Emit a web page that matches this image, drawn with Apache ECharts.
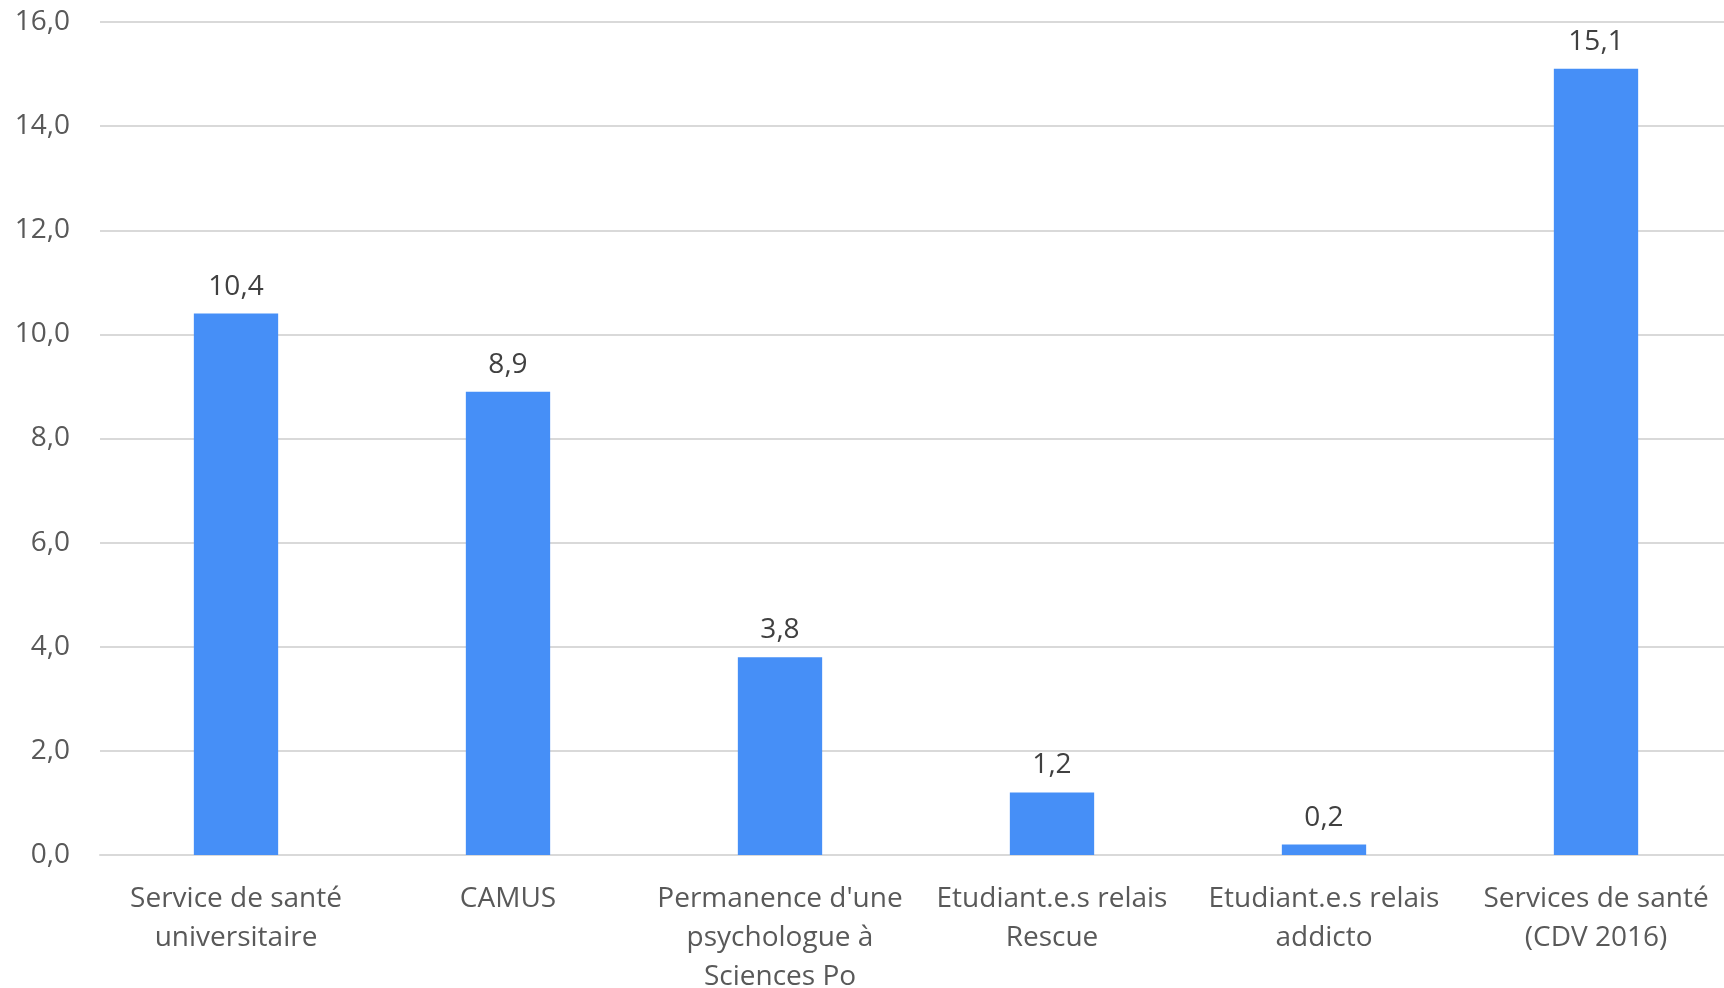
<!DOCTYPE html>
<html>
<head>
<meta charset="utf-8">
<script src="https://cdn.jsdelivr.net/npm/echarts@6/dist/echarts.min.js"></script>
<style>
  html, body { margin: 0; padding: 0; background: #fff; }
  #chart { width: 1724px; height: 988px; }
</style>
</head>
<body>
<div id="chart"></div>
<script>
// données
var categories = [
    "Service de santé\nuniversitaire",
    "CAMUS",
    "Permanence d'une\npsychologue à\nSciences Po",
    "Etudiant.e.s relais\nRescue",
    "Etudiant.e.s relais\naddicto",
    "Services de santé\n(CDV 2016)"
];
var values = [10.4, 8.9, 3.8, 1.2, 0.2, 15.1];

var fmt = function (v) {
    return Number(v).toFixed(1).replace('.', ',');
};

var myChart = echarts.init(document.getElementById("chart"));
var option = {
    animation: false,
    textStyle: { fontFamily: 'Open Sans' },
    grid: {
        left: 100,
        top: 22,
        width: 1632,
        height: 833,
        outerBoundsMode: 'none',
        containLabel: false
    },
    xAxis: {
        type: 'category',
        data: categories,
        axisLine: { lineStyle: { color: '#d9d9d9', width: 2 } },
        axisTick: { show: false },
        axisLabel: {
            color: '#595959',
            fontSize: 28,
            lineHeight: 39,
            margin: 25,
            interval: 0
        }
    },
    yAxis: {
        type: 'value',
        min: 0,
        max: 16,
        interval: 2,
        axisLine: { show: false },
        axisTick: { show: false },
        splitLine: { lineStyle: { color: '#d9d9d9', width: 2 } },
        axisLabel: {
            color: '#595959',
            fontSize: 28,
            margin: 30,
            formatter: fmt
        }
    },
    series: [{
        type: 'bar',
        data: values,
        barWidth: '31%',
        itemStyle: { color: '#468ff7' },
        label: {
            show: true,
            position: 'top',
            distance: 13,
            color: '#404040',
            fontSize: 28,
            formatter: function (p) { return fmt(p.value); }
        }
    }]
};
myChart.setOption(option);
</script>
</body>
</html>
